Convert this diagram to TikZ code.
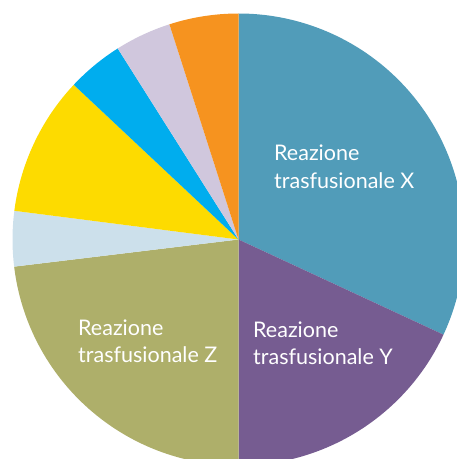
\documentclass[tikz,border=0pt]{standalone}
\usepackage{fontspec}
\setsansfont{Lato}
\usepackage{tikz}
\usetikzlibrary{positioning}
\definecolor{PieTeal}{RGB}{81,156,185}
\definecolor{PiePurple}{RGB}{118,92,145}
\definecolor{PieOlive}{RGB}{174,175,106}
\definecolor{PiePale}{RGB}{204,224,235}
\definecolor{PieYellow}{RGB}{253,219,0}
\definecolor{PieCyan}{RGB}{0,173,238}
\definecolor{PieLilac}{RGB}{208,199,221}
\definecolor{PieOrange}{RGB}{246,147,31}

\begin{document}
\begin{tikzpicture} [x=1pt, y=1pt,
       slice/.style = {fill=#1, draw=none},
       reaction/.style = {text=white, align=left, anchor=base west, inner sep=0pt,
                          font=\sffamily\fontsize{21.5}{28}\selectfont}]
	\useasboundingbox (0,0) rectangle (457,459);
	\clip (0,0) rectangle (457,459);

	%% Centre of the pie
	\coordinate (centre) at (238.5,219.5);

	%% Slices
	\fill [slice=PieTeal]   (centre) -- ++(90:226)    arc [start angle=90,    end angle=-24.9,  radius=226] -- cycle;
	\fill [slice=PiePurple] (centre) -- ++(-24.9:226) arc [start angle=-24.9, end angle=-90,    radius=226] -- cycle;
	\fill [slice=PieOlive]  (centre) -- ++(-90:226)   arc [start angle=-90,   end angle=-173.1, radius=226] -- cycle;
	\fill [slice=PiePale]   (centre) -- ++(186.9:226) arc [start angle=186.9, end angle=172.7,  radius=226] -- cycle;
	\fill [slice=PieYellow] (centre) -- ++(172.7:226) arc [start angle=172.7, end angle=136.8,  radius=226] -- cycle;
	\fill [slice=PieCyan]   (centre) -- ++(136.8:226) arc [start angle=136.8, end angle=122.3,  radius=226] -- cycle;
	\fill [slice=PieLilac]  (centre) -- ++(122.3:226) arc [start angle=122.3, end angle=107.8,  radius=226] -- cycle;
	\fill [slice=PieOrange] (centre) -- ++(107.8:226) arc [start angle=107.8, end angle=90,     radius=226] -- cycle;

	%% Labels (base = baseline of the second line)
	\node [reaction] (labx) at (274,270) {Reazione\\trasfusionale X};
	\node [reaction] (laby) at (253,94)  {Reazione\\trasfusionale Y};
	\node [reaction] (labz) at (78,96)   {Reazione\\trasfusionale Z};
\end{tikzpicture}
\end{document}
